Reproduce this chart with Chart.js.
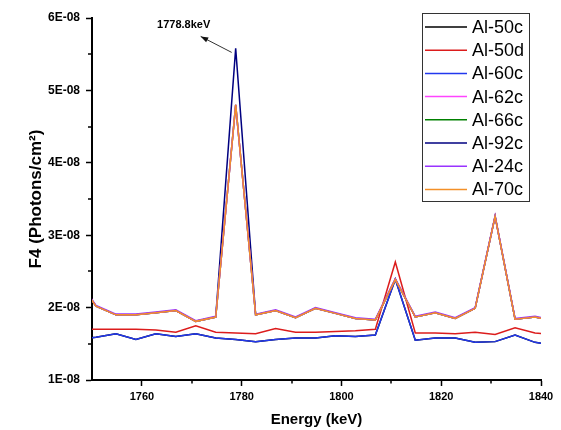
<!DOCTYPE html>
<html>
<head>
<meta charset="utf-8">
<script src="https://cdn.jsdelivr.net/npm/chart.js@4.4.0/dist/chart.umd.min.js"></script>
<style>
  html, body { margin: 0; padding: 0; background: #fff; }
  #wrap { width: 561px; height: 430px; }
</style>
</head>
<body>
<div id="wrap"><canvas id="fluxChart" width="561" height="430"></canvas></div>
<script>
// energies (keV), first and last points fall just outside the axis range
const energies = [1746.8, 1750.8, 1754.8, 1758.8, 1762.8, 1766.8, 1770.8, 1774.8, 1778.8, 1782.8,
                  1786.8, 1790.8, 1794.8, 1798.8, 1802.8, 1806.8, 1810.8, 1814.8, 1818.8, 1822.8,
                  1826.8, 1830.8, 1834.8, 1838.8, 1842.8];

// F4 values in units of 1E-08 photons/cm2
const al50c = [1.56, 1.59, 1.64, 1.56, 1.64, 1.60, 1.64, 1.58, 1.56, 1.53, 1.56, 1.58, 1.58, 1.61, 1.60, 1.62, 2.39, 1.55, 1.58, 1.58, 1.52, 1.53, 1.62, 1.52, 1.48];
const al50d = [1.70, 1.70, 1.70, 1.70, 1.69, 1.66, 1.75, 1.66, 1.65, 1.64, 1.71, 1.66, 1.66, 1.67, 1.68, 1.70, 2.63, 1.65, 1.65, 1.64, 1.66, 1.63, 1.72, 1.65, 1.62];
const al60c = [1.56, 1.59, 1.64, 1.56, 1.64, 1.60, 1.64, 1.58, 1.56, 1.53, 1.56, 1.58, 1.58, 1.61, 1.60, 1.62, 2.39, 1.55, 1.58, 1.58, 1.52, 1.53, 1.62, 1.52, 1.48];
const al62c = [2.42, 2.02, 1.90, 1.90, 1.93, 1.96, 1.81, 1.87, 4.80, 1.90, 1.96, 1.86, 1.99, 1.92, 1.85, 1.83, 2.39, 1.87, 1.93, 1.85, 1.99, 3.26, 1.84, 1.87, 1.81];
const al66c = [2.42, 2.02, 1.90, 1.90, 1.93, 1.96, 1.81, 1.87, 4.80, 1.90, 1.96, 1.86, 1.99, 1.92, 1.85, 1.83, 2.39, 1.87, 1.93, 1.85, 1.99, 3.26, 1.84, 1.87, 1.81];
const al92c = [2.42, 2.02, 1.90, 1.90, 1.93, 1.96, 1.81, 1.87, 5.58, 1.90, 1.96, 1.86, 1.99, 1.92, 1.85, 1.83, 2.39, 1.87, 1.93, 1.85, 1.99, 3.26, 1.84, 1.87, 1.81];
const al24c = [2.43, 2.03, 1.91, 1.91, 1.94, 1.97, 1.82, 1.88, 4.80, 1.91, 1.97, 1.87, 2.00, 1.93, 1.86, 1.84, 2.40, 1.88, 1.94, 1.86, 2.00, 3.27, 1.85, 1.88, 1.82];
const al70c = [2.42, 2.02, 1.90, 1.90, 1.93, 1.96, 1.81, 1.87, 4.80, 1.90, 1.96, 1.86, 1.99, 1.92, 1.85, 1.83, 2.39, 1.87, 1.93, 1.85, 1.99, 3.26, 1.84, 1.87, 1.81];

const seriesNames = ['Al-50c', 'Al-50d', 'Al-60c', 'Al-62c', 'Al-66c', 'Al-92c', 'Al-24c', 'Al-70c'];
const seriesValues = [al50c, al50d, al60c, al62c, al66c, al92c, al24c, al70c];
const seriesColors = ['#000000', '#dc1c1c', '#2238ee', '#ff44ff', '#008000', '#000080', '#9933ff', '#f39028'];
// drawing order: lower number is painted on top
const seriesOrder = [6, 7, 5, 2, 3, 4, 1, 0];

const xMajor = [1760, 1780, 1800, 1820, 1840];
const xMinor = [1770, 1790, 1810, 1830];
const yMajor = [1, 2, 3, 4, 5, 6];
const yMinor = [1.5, 2.5, 3.5, 4.5, 5.5];

const UNIT = 1e-8;
const peakLabel = '1778.8keV';
const peakEnergy = 1778.8;

const FONT = '"Liberation Sans", Arial, sans-serif';

function sciLabel(v) {
    const [m, e] = v.toExponential(0).split('e');
    const ex = parseInt(e, 10);
    return m + 'E' + (ex < 0 ? '-' : '+') + String(Math.abs(ex)).padStart(2, '0');
}

const datasets = seriesNames.map((name, i) => ({
    label: name,
    data: energies.map((x, k) => ({ x: x, y: seriesValues[i][k] * UNIT })),
    borderColor: seriesColors[i],
    backgroundColor: seriesColors[i],
    borderWidth: 1.5,
    pointRadius: 0,
    tension: 0,
    order: seriesOrder[i]
}));

// minor ticks, peak annotation and the boxed legend inside the plot
const extras = {
    id: 'extras',
    afterDraw(chart) {
        const { ctx, chartArea: area, scales: { x, y } } = chart;
        ctx.save();

        // minor ticks
        ctx.strokeStyle = '#000';
        ctx.lineWidth = 1.5;
        ctx.beginPath();
        xMinor.forEach(v => {
            const px = Math.round(x.getPixelForValue(v));
            ctx.moveTo(px, area.bottom);
            ctx.lineTo(px, area.bottom + 3.5);
        });
        yMinor.forEach(v => {
            const py = Math.round(y.getPixelForValue(v * UNIT));
            ctx.moveTo(area.left, py);
            ctx.lineTo(area.left - 4, py);
        });
        ctx.stroke();

        // peak arrow
        const peakIdx = energies.indexOf(peakEnergy);
        const px = x.getPixelForValue(peakEnergy);
        const py = y.getPixelForValue(al92c[peakIdx] * UNIT);
        const tx = px - 4, ty = py + 4;
        const hx = px - 35, hy = py - 12;
        ctx.strokeStyle = '#333';
        ctx.fillStyle = '#111';
        ctx.lineWidth = 1;
        ctx.beginPath();
        ctx.moveTo(tx, ty);
        ctx.lineTo(hx, hy);
        ctx.stroke();
        const ang = Math.atan2(hy - ty, hx - tx);
        ctx.beginPath();
        ctx.moveTo(hx, hy);
        ctx.lineTo(hx - 8 * Math.cos(ang - 0.35), hy - 8 * Math.sin(ang - 0.35));
        ctx.lineTo(hx - 8 * Math.cos(ang + 0.35), hy - 8 * Math.sin(ang + 0.35));
        ctx.closePath();
        ctx.fill();
        ctx.fillStyle = '#000';
        ctx.font = 'bold 11px ' + FONT;
        ctx.textAlign = 'center';
        ctx.textBaseline = 'middle';
        ctx.fillText(peakLabel, px - 52, py - 23);

        // legend box
        const bx = area.right - 119, by = area.top - 5, bw = 107, bh = 188;
        ctx.fillStyle = '#fff';
        ctx.fillRect(bx, by, bw, bh);
        ctx.strokeStyle = '#333';
        ctx.lineWidth = 1;
        ctx.strokeRect(bx + 0.5, by + 0.5, bw, bh);
        ctx.font = '18px ' + FONT;
        ctx.textAlign = 'left';
        ctx.textBaseline = 'middle';
        chart.data.datasets.forEach((ds, i) => {
            const rowY = by + 14 + i * 23.2;
            ctx.strokeStyle = ds.borderColor;
            ctx.lineWidth = 1.5;
            ctx.beginPath();
            ctx.moveTo(bx + 3, rowY);
            ctx.lineTo(bx + 45, rowY);
            ctx.stroke();
            ctx.fillStyle = '#000';
            ctx.fillText(ds.label, bx + 50, rowY + 1);
        });
        ctx.restore();
    }
};

const ctx = document.getElementById('fluxChart').getContext('2d');
const chart = new Chart(ctx, {
    type: 'line',
    data: { datasets: datasets },
    options: {
        responsive: false,
        devicePixelRatio: 1,
        animation: false,
        layout: { padding: { top: 18, right: 20, left: 0, bottom: 0 } },
        plugins: {
            legend: { display: false },
            tooltip: { enabled: false }
        },
        scales: {
            x: {
                type: 'linear',
                min: 1750,
                max: 1840,
                afterBuildTicks: s => { s.ticks = xMajor.map(v => ({ value: v })); },
                afterFit: s => { s.height = 50; },
                border: { display: true, color: '#000', width: 2 },
                grid: { drawOnChartArea: false, drawTicks: true, tickLength: 6, tickColor: '#000', tickWidth: 1.5 },
                ticks: {
                    color: '#000',
                    font: { family: FONT, size: 11, weight: 'bold' },
                    padding: 4,
                    maxRotation: 0,
                    callback: v => String(v)
                },
                title: {
                    display: true,
                    text: 'Energy (keV)',
                    color: '#000',
                    font: { family: FONT, size: 15, weight: 'bold' },
                    padding: { top: 0, bottom: 1 }
                }
            },
            y: {
                type: 'linear',
                min: 1 * UNIT,
                max: 6 * UNIT,
                afterBuildTicks: s => { s.ticks = yMajor.map(v => ({ value: v * UNIT })); },
                afterFit: s => { s.width = 92; },
                border: { display: true, color: '#000', width: 2 },
                grid: { drawOnChartArea: false, drawTicks: true, tickLength: 6, tickColor: '#000', tickWidth: 1.5 },
                ticks: {
                    color: '#000',
                    font: { family: FONT, size: 12, weight: 'bold' },
                    padding: 6,
                    callback: v => sciLabel(v)
                },
                title: {
                    display: true,
                    text: 'F4 (Photons/cm²)',
                    color: '#000',
                    font: { family: FONT, size: 17, weight: 'bold' },
                    padding: { top: 26, bottom: 0 }
                }
            }
        }
    },
    plugins: [extras]
});
</script>
</body>
</html>
